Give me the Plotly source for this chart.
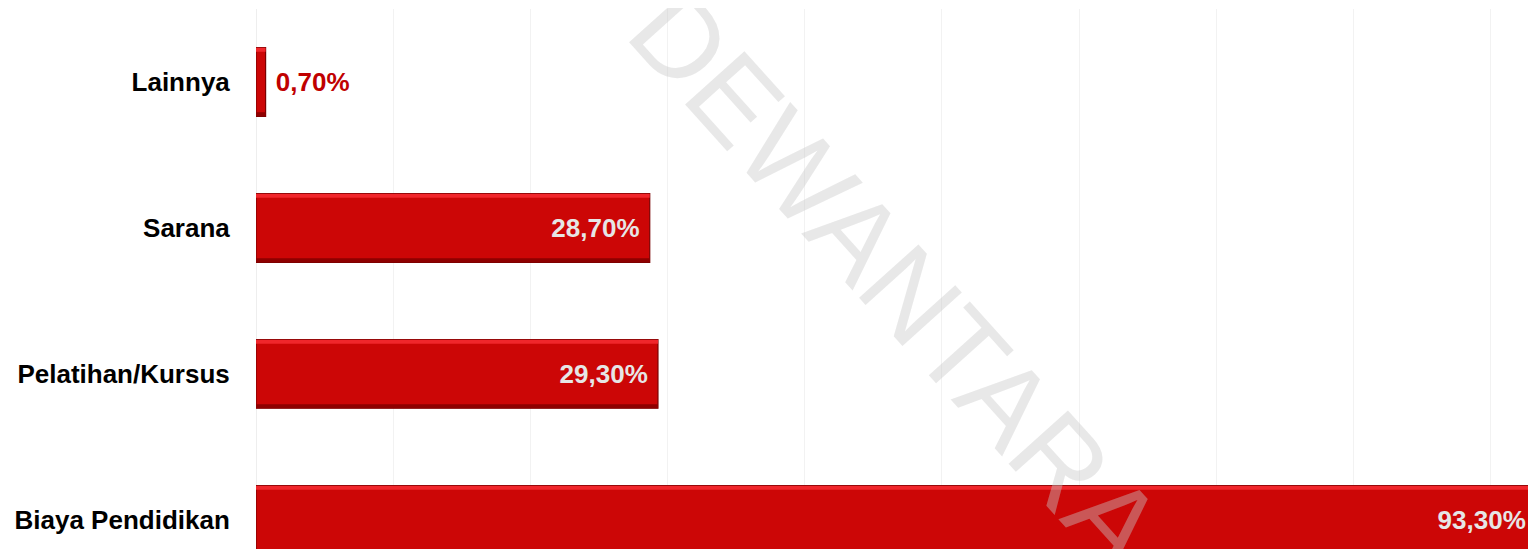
import plotly.graph_objects as go

categories = ["Biaya Pendidikan", "Pelatihan/Kursus", "Sarana", "Lainnya"]
values = [93.3, 29.3, 28.7, 0.7]
labels = ["93,30%", "29,30%", "28,70%", "0,70%"]
label_pos = ["inside", "inside", "inside", "outside"]
label_colors = ["#E6E6E6", "#E6E6E6", "#E6E6E6", "#C00000"]

NB = "\u00a0"
shown = [(NB + t if p == "outside" else t + NB) for t, p in zip(labels, label_pos)]

BW = 0.47
STRIP = 0.028

fig = go.Figure()
fig.add_trace(go.Bar(
    y=categories, x=values, orientation="h",
    marker=dict(color="#CC0606", line=dict(color="#7A0000", width=1.2)),
    width=BW, offset=-BW / 2,
    hoverinfo="skip",
))
# top highlight
fig.add_trace(go.Bar(
    y=categories, x=values, orientation="h",
    marker=dict(color="#F0262B", line=dict(width=0)),
    width=STRIP, offset=BW / 2 - STRIP,
    hoverinfo="skip",
))
# bottom shade
fig.add_trace(go.Bar(
    y=categories, x=values, orientation="h",
    marker=dict(color="#8E0000", line=dict(width=0)),
    width=STRIP, offset=-BW / 2,
    hoverinfo="skip",
))
# labels
fig.add_trace(go.Bar(
    y=categories, x=values, orientation="h",
    marker=dict(color="rgba(0,0,0,0)", line=dict(width=0)),
    width=BW, offset=-BW / 2,
    text=shown, textposition=label_pos,
    texttemplate="<b>%{text}</b>",
    insidetextanchor="end",
    textfont=dict(family="Liberation Sans, Arial", size=26, color=label_colors),
    cliponaxis=False,
))

fig.add_annotation(
    text="DEWANTARA", xref="paper", yref="paper",
    x=0.5, y=0.50, showarrow=False, textangle=48,
    font=dict(family="Liberation Sans, Arial", size=116, color="rgba(200,200,200,0.42)"),
)

fig.update_layout(
    width=1528, height=541,
    margin=dict(l=248, r=0, t=1, b=0),
    paper_bgcolor="white", plot_bgcolor="white",
    showlegend=False, barmode="overlay",
    font=dict(family="Liberation Sans, Arial", color="black"),
)
fig.update_xaxes(range=[0, 93.3], dtick=10, showticklabels=False, automargin=False,
                 showgrid=True, gridcolor="#F2F2F2", gridwidth=1,
                 zeroline=True, zerolinecolor="#EEEEEE", zerolinewidth=1)
fig.update_yaxes(range=[-0.199, 3.5], automargin=False,
                 tickfont=dict(size=26, family="Liberation Sans, Arial", color="black"),
                 ticks="outside", ticklen=20, tickcolor="white", showgrid=False,
                 tickmode="array", tickvals=categories,
                 ticktext=["<b>%s</b>" % c for c in categories])

fig.write_html("out.html")
